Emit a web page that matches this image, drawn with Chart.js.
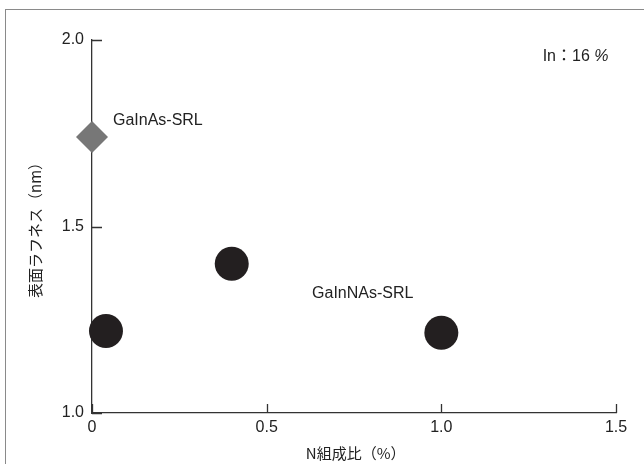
<!DOCTYPE html>
<html>
<head>
<meta charset="utf-8">
<script src="https://cdn.jsdelivr.net/npm/chart.js@4"></script>
<style>
  html, body { margin: 0; padding: 0; background: #fff; }
  #wrap { position: relative; width: 644px; height: 464px; overflow: hidden; }
  #frame { position: absolute; left: 5px; top: 9px; width: 640px; height: 470px; border: 1px solid #8a8a8a; box-sizing: border-box; }
  canvas { position: absolute; left: 0; top: 0; }
</style>
</head>
<body>
<div id="wrap">
  <div id="frame"></div>
  <canvas id="chart" width="644" height="464"></canvas>
</div>
<script>
// GaInAs-SRL (no nitrogen)
const gainasN = [0];
const gainasRough = [1.74];
// GaInNAs-SRL
const gainnasN = [0.04, 0.4, 1.0];
const gainnasRough = [1.22, 1.40, 1.215];

const xTickLabels = ['0', '0.5', '1.0', '1.5'];
const yTickLabels = ['1.0', '1.5', '2.0'];

// text notes placed in data units
const noteTexts = ['GaInAs-SRL', 'GaInNAs-SRL', 'In：16 '];
const noteX = [0.06, 0.63, 1.29];
const noteY = [1.785, 1.32, 1.956];

const latin = '"Liberation Sans", Arial, "Noto Sans CJK JP", sans-serif';
const cjk = '"Noto Sans CJK JP", "Liberation Sans", sans-serif';

// inward tick marks and text notes
const extras = {
    id: 'extras',
    beforeDatasetsDraw(chart) {
        let ctx = chart.ctx;
        let xs = chart.scales.x, ys = chart.scales.y;
        let area = chart.chartArea;
        ctx.save();
        ctx.strokeStyle = '#333';
        ctx.lineWidth = 1.3;
        ctx.beginPath();
        xs.ticks.forEach(t => {
            let px = Math.round(xs.getPixelForValue(t.value)) + 0.5;
            ctx.moveTo(px, area.bottom);
            ctx.lineTo(px, area.bottom - 9);
        });
        ys.ticks.forEach(t => {
            let py = Math.round(ys.getPixelForValue(t.value)) + 0.5;
            ctx.moveTo(area.left, py);
            ctx.lineTo(area.left + 10, py);
        });
        ctx.stroke();
        ctx.restore();
    },
    afterDatasetsDraw(chart) {
        let ctx = chart.ctx;
        let xs = chart.scales.x, ys = chart.scales.y;
        ctx.save();
        ctx.fillStyle = '#222';
        ctx.textBaseline = 'middle';
        ctx.textAlign = 'left';
        noteTexts.forEach((txt, i) => {
            let px = xs.getPixelForValue(noteX[i]);
            let py = ys.getPixelForValue(noteY[i]);
            ctx.font = '16px ' + latin;
            ctx.fillText(txt, px, py);
            if (i === 2) {
                let w = ctx.measureText(txt).width;
                ctx.font = 'italic 16px ' + latin;
                ctx.fillText('%', px + w, py);
            }
        });
        ctx.restore();
    }
};

let ctx = document.getElementById('chart').getContext('2d');
let chart = new Chart(ctx, {
    type: 'scatter',
    data: {
        datasets: [{
            label: 'GaInAs-SRL',
            data: gainasN.map((n, i) => ({ x: n, y: gainasRough[i] })),
            pointStyle: 'rectRot',
            pointRadius: 16,
            backgroundColor: '#777777',
            borderColor: '#777777',
            borderWidth: 0,
            clip: false
        }, {
            label: 'GaInNAs-SRL',
            data: gainnasN.map((n, i) => ({ x: n, y: gainnasRough[i] })),
            pointStyle: 'circle',
            pointRadius: 17,
            backgroundColor: '#231f20',
            borderColor: '#231f20',
            borderWidth: 0,
            clip: false
        }]
    },
    options: {
        responsive: false,
        animation: false,
        layout: { padding: { top: 40, right: 28, left: 0, bottom: 0 } },
        plugins: {
            legend: { display: false },
            tooltip: { enabled: false }
        },
        scales: {
            x: {
                type: 'linear',
                min: 0,
                max: 1.5,
                afterFit: s => { s.height = 51; },
                border: { display: true, color: '#333', width: 1.3 },
                grid: { display: false, drawTicks: false },
                ticks: {
                    stepSize: 0.5,
                    padding: 5,
                    color: '#222',
                    font: { family: latin, size: 16 },
                    callback: (v, i) => xTickLabels[i]
                },
                title: {
                    display: true,
                    text: ' N組成比（%）',
                    color: '#222',
                    font: { family: cjk, size: 15 },
                    padding: { top: 0, bottom: 2 }
                }
            },
            y: {
                type: 'linear',
                min: 1,
                max: 2,
                afterFit: s => { s.width = 92; },
                border: { display: true, color: '#333', width: 1.3 },
                grid: { display: false, drawTicks: false },
                ticks: {
                    stepSize: 0.5,
                    padding: 8,
                    color: '#222',
                    font: { family: latin, size: 16 },
                    callback: (v, i) => yTickLabels[i]
                },
                title: {
                    display: true,
                    text: '表面ラフネス（nm）',
                    color: '#222',
                    font: { family: cjk, size: 15 },
                    padding: { top: 26, bottom: 0 }
                }
            }
        }
    },
    plugins: [extras]
});
</script>
</body>
</html>
